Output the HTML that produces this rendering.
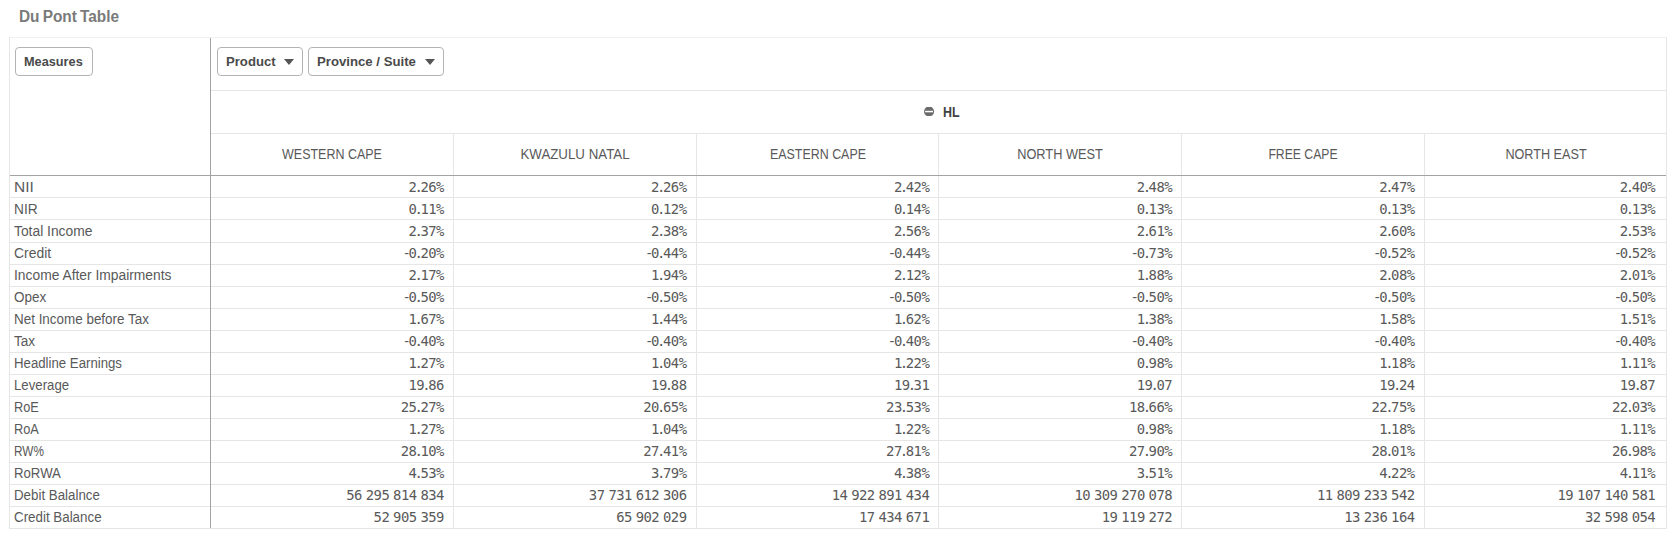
<!DOCTYPE html>
<html lang="en"><head><meta charset="utf-8"><title>Du Pont Table</title>
<style>
html,body{margin:0;padding:0;background:#fff}
body{width:1673px;height:534px;position:relative;overflow:hidden;font-family:"Liberation Sans",sans-serif;font-size:14px;color:#595959}
.h,.v,.x,.btn,svg{position:absolute}
.h{height:1px;background:#e6e6e6}
.v{width:1px;background:#e6e6e6}
.dk{background:#a3a3a3}
.x{white-space:nowrap;line-height:22px;height:22px;transform-origin:0 50%}
.c{transform-origin:50% 50%;text-align:center}
.b{font-weight:bold}
.btn{box-sizing:border-box;height:29px;top:47px;border:1px solid #b3b3b3;border-radius:4px;background:#fff}
.tri{position:absolute;width:0;height:0;border-left:5px solid transparent;border-right:5px solid transparent;border-top:6px solid #555;top:59px}
.nums text{font-family:"DejaVu Sans Mono","Liberation Mono",monospace;font-size:13.9px;fill:#595959;text-anchor:end;white-space:pre}

</style></head><body>
<div class="x b" id="title" style="left:18.97px;top:5.5px;font-size:16px;transform:scaleX(0.9625);color:#7a7a7a;word-spacing:-1.2px">Du Pont Table</div>
<div class="h" style="left:9px;top:37px;width:1658px;background:#f0f0f0"></div>
<div class="h" style="left:210px;top:90px;width:1457px"></div>
<div class="h" style="left:210px;top:133px;width:1457px"></div>
<div class="h" style="left:9px;top:197px;width:1658px"></div>
<div class="h" style="left:9px;top:219px;width:1658px"></div>
<div class="h" style="left:9px;top:242px;width:1658px"></div>
<div class="h" style="left:9px;top:264px;width:1658px"></div>
<div class="h" style="left:9px;top:286px;width:1658px"></div>
<div class="h" style="left:9px;top:308px;width:1658px"></div>
<div class="h" style="left:9px;top:330px;width:1658px"></div>
<div class="h" style="left:9px;top:352px;width:1658px"></div>
<div class="h" style="left:9px;top:374px;width:1658px"></div>
<div class="h" style="left:9px;top:396px;width:1658px"></div>
<div class="h" style="left:9px;top:418px;width:1658px"></div>
<div class="h" style="left:9px;top:440px;width:1658px"></div>
<div class="h" style="left:9px;top:462px;width:1658px"></div>
<div class="h" style="left:9px;top:484px;width:1658px"></div>
<div class="h" style="left:9px;top:506px;width:1658px"></div>
<div class="h" style="left:9px;top:528px;width:1658px"></div>
<div class="v" style="left:9px;top:37px;height:492px"></div>
<div class="v" style="left:1666px;top:37px;height:492px"></div>
<div class="v" style="left:453px;top:133px;height:396px"></div>
<div class="v" style="left:696px;top:133px;height:396px"></div>
<div class="v" style="left:938px;top:133px;height:396px"></div>
<div class="v" style="left:1181px;top:133px;height:396px"></div>
<div class="v" style="left:1424px;top:133px;height:396px"></div>
<div class="h dk" style="left:10px;top:175px;width:1656px"></div>
<div class="v dk" style="left:210px;top:38px;height:490px"></div>
<div class="btn" style="left:15px;width:78px"></div>
<div class="btn" style="left:217px;width:86px"></div>
<div class="btn" style="left:308px;width:136px"></div>
<div class="x b" id="Measures" style="left:24.37px;top:50.5px;font-size:13.5px;transform:scaleX(0.9427);color:#4a4a4a">Measures</div>
<div class="x b" id="Product" style="left:225.80px;top:50.5px;font-size:13.5px;transform:scaleX(0.9729);color:#4a4a4a">Product</div>
<div class="x b" id="Province__Suite" style="left:317.40px;top:50.5px;font-size:13.5px;transform:scaleX(0.9767);color:#4a4a4a">Province / Suite</div>
<i class="tri" style="left:284px"></i><i class="tri" style="left:425px"></i>
<svg style="left:923px;top:107px" width="12" height="9" viewBox="0 0 12 9"><circle cx="6.05" cy="4.45" r="5.05" fill="#6b6b6b"/><rect x="2.1" y="3.8" width="7.9" height="1.5" fill="#fff"/></svg>
<div class="x b" id="HL" style="left:943.13px;top:101px;transform:scaleX(0.8865);color:#404040">HL</div>
<div class="x c" id="WESTERN_CAPE" style="left:181.81px;width:300px;top:143px;transform:scaleX(0.8910)">WESTERN CAPE</div>
<div class="x c" id="KWAZULU_NATAL" style="left:424.66px;width:300px;top:143px;transform:scaleX(0.9497)">KWAZULU NATAL</div>
<div class="x c" id="EASTERN_CAPE" style="left:667.67px;width:300px;top:143px;transform:scaleX(0.8873)">EASTERN CAPE</div>
<div class="x c" id="NORTH_WEST" style="left:909.70px;width:300px;top:143px;transform:scaleX(0.9127)">NORTH WEST</div>
<div class="x c" id="FREE_CAPE" style="left:1153.17px;width:300px;top:143px;transform:scaleX(0.8724)">FREE CAPE</div>
<div class="x c" id="NORTH_EAST" style="left:1395.95px;width:300px;top:143px;transform:scaleX(0.9027)">NORTH EAST</div>
<div class="x" id="NII" style="left:13.68px;top:176px;transform:scaleX(1.1067)">NII</div>
<div class="x" id="NIR" style="left:13.61px;top:198px;transform:scaleX(0.9797)">NIR</div>
<div class="x" id="Total_Income" style="left:13.85px;top:220px;transform:scaleX(0.9878)">Total Income</div>
<div class="x" id="Credit" style="left:13.93px;top:242px;transform:scaleX(0.9930)">Credit</div>
<div class="x" id="Income_After_Impairments" style="left:13.64px;top:264px;transform:scaleX(0.9874)">Income After Impairments</div>
<div class="x" id="Opex" style="left:13.84px;top:286px;transform:scaleX(0.9627)">Opex</div>
<div class="x" id="Net_Income_before_Tax" style="left:13.99px;top:308px;transform:scaleX(0.9595)">Net Income before Tax</div>
<div class="x" id="Tax" style="left:14.37px;top:330px;transform:scaleX(0.9690)">Tax</div>
<div class="x" id="Headline_Earnings" style="left:14.08px;top:352px;transform:scaleX(0.9437)">Headline Earnings</div>
<div class="x" id="Leverage" style="left:14.07px;top:374px;transform:scaleX(0.9436)">Leverage</div>
<div class="x" id="RoE" style="left:14.24px;top:396px;transform:scaleX(0.9096)">RoE</div>
<div class="x" id="RoA" style="left:14.19px;top:418px;transform:scaleX(0.9137)">RoA</div>
<div class="x" id="RWpc" style="left:14.19px;top:440px;transform:scaleX(0.8404)">RW%</div>
<div class="x" id="RoRWA" style="left:14.07px;top:462px;transform:scaleX(0.9423)">RoRWA</div>
<div class="x" id="Debit_Balalnce" style="left:14.06px;top:484px;transform:scaleX(0.9513)">Debit Balalnce</div>
<div class="x" id="Credit_Balance" style="left:13.97px;top:506px;transform:scaleX(0.9537)">Credit Balance</div>
<svg class="nums" width="1673" height="534" viewBox="0 0 1673 534" style="left:0;top:0">
<text x="444.4" y="192" dx="0 -2.42 -2.42 -0.57 -0.57">2.26%</text>
<text x="687.0" y="192" dx="0 -2.42 -2.42 -0.57 -0.57">2.26%</text>
<text x="929.8" y="192" dx="0 -2.42 -2.42 -0.57 -0.57">2.42%</text>
<text x="1172.6" y="192" dx="0 -2.42 -2.42 -0.57 -0.57">2.48%</text>
<text x="1415.1" y="192" dx="0 -2.42 -2.42 -0.57 -0.57">2.47%</text>
<text x="1655.7" y="192" dx="0 -2.42 -2.42 -0.57 -0.57">2.40%</text>
<text x="444.4" y="214" dx="0 -2.42 -2.42 -0.57 -0.57">0.11%</text>
<text x="687.0" y="214" dx="0 -2.42 -2.42 -0.57 -0.57">0.12%</text>
<text x="929.8" y="214" dx="0 -2.42 -2.42 -0.57 -0.57">0.14%</text>
<text x="1172.6" y="214" dx="0 -2.42 -2.42 -0.57 -0.57">0.13%</text>
<text x="1415.1" y="214" dx="0 -2.42 -2.42 -0.57 -0.57">0.13%</text>
<text x="1655.7" y="214" dx="0 -2.42 -2.42 -0.57 -0.57">0.13%</text>
<text x="444.4" y="236" dx="0 -2.42 -2.42 -0.57 -0.57">2.37%</text>
<text x="687.0" y="236" dx="0 -2.42 -2.42 -0.57 -0.57">2.38%</text>
<text x="929.8" y="236" dx="0 -2.42 -2.42 -0.57 -0.57">2.56%</text>
<text x="1172.6" y="236" dx="0 -2.42 -2.42 -0.57 -0.57">2.61%</text>
<text x="1415.1" y="236" dx="0 -2.42 -2.42 -0.57 -0.57">2.60%</text>
<text x="1655.7" y="236" dx="0 -2.42 -2.42 -0.57 -0.57">2.53%</text>
<text x="444.4" y="258" dx="0 -2.27 -2.42 -2.42 -0.57 -0.57">-0.20%</text>
<text x="687.0" y="258" dx="0 -2.27 -2.42 -2.42 -0.57 -0.57">-0.44%</text>
<text x="929.8" y="258" dx="0 -2.27 -2.42 -2.42 -0.57 -0.57">-0.44%</text>
<text x="1172.6" y="258" dx="0 -2.27 -2.42 -2.42 -0.57 -0.57">-0.73%</text>
<text x="1415.1" y="258" dx="0 -2.27 -2.42 -2.42 -0.57 -0.57">-0.52%</text>
<text x="1655.7" y="258" dx="0 -2.27 -2.42 -2.42 -0.57 -0.57">-0.52%</text>
<text x="444.4" y="280" dx="0 -2.42 -2.42 -0.57 -0.57">2.17%</text>
<text x="687.0" y="280" dx="0 -2.42 -2.42 -0.57 -0.57">1.94%</text>
<text x="929.8" y="280" dx="0 -2.42 -2.42 -0.57 -0.57">2.12%</text>
<text x="1172.6" y="280" dx="0 -2.42 -2.42 -0.57 -0.57">1.88%</text>
<text x="1415.1" y="280" dx="0 -2.42 -2.42 -0.57 -0.57">2.08%</text>
<text x="1655.7" y="280" dx="0 -2.42 -2.42 -0.57 -0.57">2.01%</text>
<text x="444.4" y="302" dx="0 -2.27 -2.42 -2.42 -0.57 -0.57">-0.50%</text>
<text x="687.0" y="302" dx="0 -2.27 -2.42 -2.42 -0.57 -0.57">-0.50%</text>
<text x="929.8" y="302" dx="0 -2.27 -2.42 -2.42 -0.57 -0.57">-0.50%</text>
<text x="1172.6" y="302" dx="0 -2.27 -2.42 -2.42 -0.57 -0.57">-0.50%</text>
<text x="1415.1" y="302" dx="0 -2.27 -2.42 -2.42 -0.57 -0.57">-0.50%</text>
<text x="1655.7" y="302" dx="0 -2.27 -2.42 -2.42 -0.57 -0.57">-0.50%</text>
<text x="444.4" y="324" dx="0 -2.42 -2.42 -0.57 -0.57">1.67%</text>
<text x="687.0" y="324" dx="0 -2.42 -2.42 -0.57 -0.57">1.44%</text>
<text x="929.8" y="324" dx="0 -2.42 -2.42 -0.57 -0.57">1.62%</text>
<text x="1172.6" y="324" dx="0 -2.42 -2.42 -0.57 -0.57">1.38%</text>
<text x="1415.1" y="324" dx="0 -2.42 -2.42 -0.57 -0.57">1.58%</text>
<text x="1655.7" y="324" dx="0 -2.42 -2.42 -0.57 -0.57">1.51%</text>
<text x="444.4" y="346" dx="0 -2.27 -2.42 -2.42 -0.57 -0.57">-0.40%</text>
<text x="687.0" y="346" dx="0 -2.27 -2.42 -2.42 -0.57 -0.57">-0.40%</text>
<text x="929.8" y="346" dx="0 -2.27 -2.42 -2.42 -0.57 -0.57">-0.40%</text>
<text x="1172.6" y="346" dx="0 -2.27 -2.42 -2.42 -0.57 -0.57">-0.40%</text>
<text x="1415.1" y="346" dx="0 -2.27 -2.42 -2.42 -0.57 -0.57">-0.40%</text>
<text x="1655.7" y="346" dx="0 -2.27 -2.42 -2.42 -0.57 -0.57">-0.40%</text>
<text x="444.4" y="368" dx="0 -2.42 -2.42 -0.57 -0.57">1.27%</text>
<text x="687.0" y="368" dx="0 -2.42 -2.42 -0.57 -0.57">1.04%</text>
<text x="929.8" y="368" dx="0 -2.42 -2.42 -0.57 -0.57">1.22%</text>
<text x="1172.6" y="368" dx="0 -2.42 -2.42 -0.57 -0.57">0.98%</text>
<text x="1415.1" y="368" dx="0 -2.42 -2.42 -0.57 -0.57">1.18%</text>
<text x="1655.7" y="368" dx="0 -2.42 -2.42 -0.57 -0.57">1.11%</text>
<text x="444.4" y="390" dx="0 -0.57 -2.42 -2.42 -0.57">19.86</text>
<text x="687.0" y="390" dx="0 -0.57 -2.42 -2.42 -0.57">19.88</text>
<text x="929.8" y="390" dx="0 -0.57 -2.42 -2.42 -0.57">19.31</text>
<text x="1172.6" y="390" dx="0 -0.57 -2.42 -2.42 -0.57">19.07</text>
<text x="1415.1" y="390" dx="0 -0.57 -2.42 -2.42 -0.57">19.24</text>
<text x="1655.7" y="390" dx="0 -0.57 -2.42 -2.42 -0.57">19.87</text>
<text x="444.4" y="412" dx="0 -0.57 -2.42 -2.42 -0.57 -0.57">25.27%</text>
<text x="687.0" y="412" dx="0 -0.57 -2.42 -2.42 -0.57 -0.57">20.65%</text>
<text x="929.8" y="412" dx="0 -0.57 -2.42 -2.42 -0.57 -0.57">23.53%</text>
<text x="1172.6" y="412" dx="0 -0.57 -2.42 -2.42 -0.57 -0.57">18.66%</text>
<text x="1415.1" y="412" dx="0 -0.57 -2.42 -2.42 -0.57 -0.57">22.75%</text>
<text x="1655.7" y="412" dx="0 -0.57 -2.42 -2.42 -0.57 -0.57">22.03%</text>
<text x="444.4" y="434" dx="0 -2.42 -2.42 -0.57 -0.57">1.27%</text>
<text x="687.0" y="434" dx="0 -2.42 -2.42 -0.57 -0.57">1.04%</text>
<text x="929.8" y="434" dx="0 -2.42 -2.42 -0.57 -0.57">1.22%</text>
<text x="1172.6" y="434" dx="0 -2.42 -2.42 -0.57 -0.57">0.98%</text>
<text x="1415.1" y="434" dx="0 -2.42 -2.42 -0.57 -0.57">1.18%</text>
<text x="1655.7" y="434" dx="0 -2.42 -2.42 -0.57 -0.57">1.11%</text>
<text x="444.4" y="456" dx="0 -0.57 -2.42 -2.42 -0.57 -0.57">28.10%</text>
<text x="687.0" y="456" dx="0 -0.57 -2.42 -2.42 -0.57 -0.57">27.41%</text>
<text x="929.8" y="456" dx="0 -0.57 -2.42 -2.42 -0.57 -0.57">27.81%</text>
<text x="1172.6" y="456" dx="0 -0.57 -2.42 -2.42 -0.57 -0.57">27.90%</text>
<text x="1415.1" y="456" dx="0 -0.57 -2.42 -2.42 -0.57 -0.57">28.01%</text>
<text x="1655.7" y="456" dx="0 -0.57 -2.42 -2.42 -0.57 -0.57">26.98%</text>
<text x="444.4" y="478" dx="0 -2.42 -2.42 -0.57 -0.57">4.53%</text>
<text x="687.0" y="478" dx="0 -2.42 -2.42 -0.57 -0.57">3.79%</text>
<text x="929.8" y="478" dx="0 -2.42 -2.42 -0.57 -0.57">4.38%</text>
<text x="1172.6" y="478" dx="0 -2.42 -2.42 -0.57 -0.57">3.51%</text>
<text x="1415.1" y="478" dx="0 -2.42 -2.42 -0.57 -0.57">4.22%</text>
<text x="1655.7" y="478" dx="0 -2.42 -2.42 -0.57 -0.57">4.11%</text>
<text x="444.4" y="500" dx="0 -0.57 -0.57 -4.47 -0.57 -0.57 -0.57 -4.47 -0.57 -0.57 -0.57 -4.47 -0.57 -0.57">56 295 814 834</text>
<text x="687.0" y="500" dx="0 -0.57 -0.57 -4.47 -0.57 -0.57 -0.57 -4.47 -0.57 -0.57 -0.57 -4.47 -0.57 -0.57">37 731 612 306</text>
<text x="929.8" y="500" dx="0 -0.57 -0.57 -4.47 -0.57 -0.57 -0.57 -4.47 -0.57 -0.57 -0.57 -4.47 -0.57 -0.57">14 922 891 434</text>
<text x="1172.6" y="500" dx="0 -0.57 -0.57 -4.47 -0.57 -0.57 -0.57 -4.47 -0.57 -0.57 -0.57 -4.47 -0.57 -0.57">10 309 270 078</text>
<text x="1415.1" y="500" dx="0 -0.57 -0.57 -4.47 -0.57 -0.57 -0.57 -4.47 -0.57 -0.57 -0.57 -4.47 -0.57 -0.57">11 809 233 542</text>
<text x="1655.7" y="500" dx="0 -0.57 -0.57 -4.47 -0.57 -0.57 -0.57 -4.47 -0.57 -0.57 -0.57 -4.47 -0.57 -0.57">19 107 140 581</text>
<text x="444.4" y="522" dx="0 -0.57 -0.57 -4.47 -0.57 -0.57 -0.57 -4.47 -0.57 -0.57">52 905 359</text>
<text x="687.0" y="522" dx="0 -0.57 -0.57 -4.47 -0.57 -0.57 -0.57 -4.47 -0.57 -0.57">65 902 029</text>
<text x="929.8" y="522" dx="0 -0.57 -0.57 -4.47 -0.57 -0.57 -0.57 -4.47 -0.57 -0.57">17 434 671</text>
<text x="1172.6" y="522" dx="0 -0.57 -0.57 -4.47 -0.57 -0.57 -0.57 -4.47 -0.57 -0.57">19 119 272</text>
<text x="1415.1" y="522" dx="0 -0.57 -0.57 -4.47 -0.57 -0.57 -0.57 -4.47 -0.57 -0.57">13 236 164</text>
<text x="1655.7" y="522" dx="0 -0.57 -0.57 -4.47 -0.57 -0.57 -0.57 -4.47 -0.57 -0.57">32 598 054</text>
</svg>
</body></html>
